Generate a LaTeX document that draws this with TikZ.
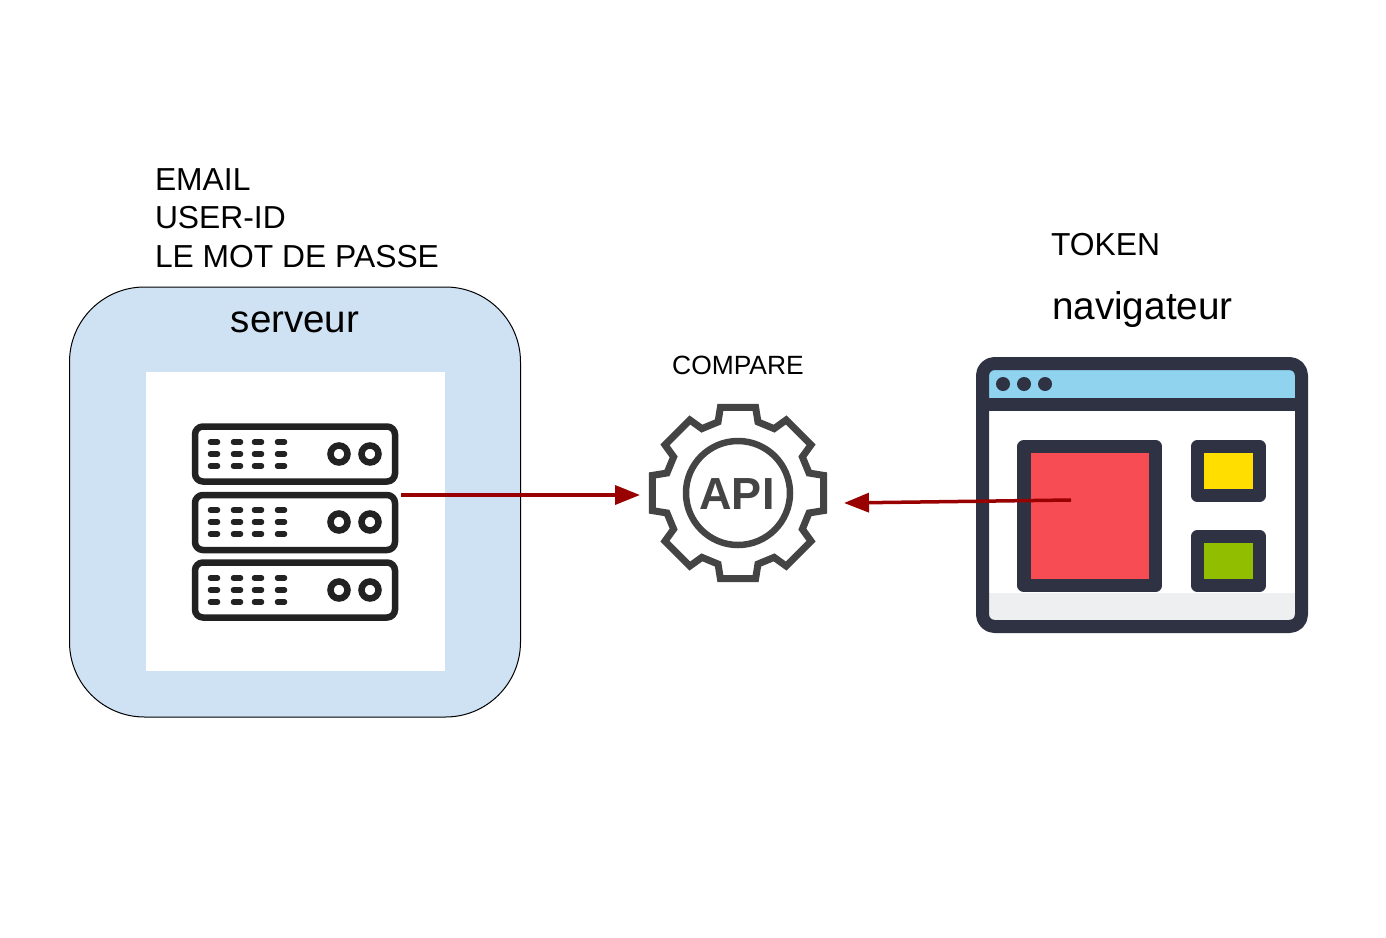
\documentclass[tikz,border=0pt]{standalone}
\usepackage{fontspec}
\setmainfont{Liberation Sans}
\usetikzlibrary{arrows.meta}
\definecolor{panelblue}{HTML}{CFE2F3}
\definecolor{arrowred}{HTML}{990000}
\definecolor{icondark}{HTML}{2F3243}
\definecolor{icongrey}{HTML}{444444}
\definecolor{iconblack}{HTML}{222222}
\definecolor{skyband}{HTML}{8FD3EF}
\definecolor{redpane}{HTML}{F84C55}
\definecolor{yellowpane}{HTML}{FFDE00}
\definecolor{greenpane}{HTML}{92BE00}
\definecolor{footgrey}{HTML}{EEEFF1}
\newcommand{\fsz}[1]{\fontsize{#1}{#1}\selectfont}
\tikzset{
  lbl/.style={inner sep=0pt,outer sep=0pt,anchor=base west,text=black},
  flow/.style={draw=arrowred,line width=3.5pt,-{Stealth[length=25pt,width=19pt,inset=0pt]}},
  rackbox/.style={draw=iconblack,line width=6.5pt,rounded corners=8pt},
  slot/.style={draw=iconblack,line width=5.5pt,line cap=round},
  led/.style={draw=iconblack,line width=6.5pt,fill=white},
  frame/.style={draw=icondark,line width=13pt,line join=round},
  pane/.style={draw=icondark,line width=13.5pt,line join=round},
}
\begin{document}
\begin{tikzpicture}[x=1pt,y=-1pt]
\useasboundingbox (0,0) rectangle (1386,937);
\fill[white] (0,0) rectangle (1386,937);

% server panel
\draw[fill=panelblue,draw=black,line width=1pt,rounded corners=75pt] (69.5,287) rectangle (520.5,717);
\fill[white] (146,372) rectangle (445,671);
\node[lbl,anchor=base] (serverlabel) at (295,332) {\fsz{38.5}serveur};
\node[lbl] (creds1) at (155,190) {\fsz{31.8}EMAIL};
\node[lbl] (creds2) at (155,228.5) {\fsz{31.8}USER-ID};
\node[lbl] (creds3) at (155,267) {\fsz{31.8}LE MOT DE PASSE};

% server rack icon
\foreach \t in {426.5,495,562.5}{
  \draw[rackbox] (195,\t) rectangle (395,\t+55);
}
\foreach \dy in {0,68,136}{
  \foreach \x in {214,237,258,281}{
    \foreach \yy in {442,454,466}{
      \draw[slot] (\x-3.5,\yy+\dy) -- (\x+3.5,\yy+\dy);
    }
  }
  \draw[led] (339,454+\dy) circle (8.5);
  \draw[led] (370,454+\dy) circle (8.5);
}
\coordinate (serverport) at (401,495);

% API gear
\node[lbl,anchor=base] (compare) at (738,374) {\fsz{26.4}COMPARE};
\draw[icongrey,line width=7pt,line join=miter,miter limit=3]
  ({738+73.8*cos(-90-15.7)},{493+73.8*sin(-90-15.7)})
  \foreach \a in {-90,-45,0,45,90,135,180,225}{
    -- ({738+73.8*cos(\a-15.7)},{493+73.8*sin(\a-15.7)})
    -- ({738+87.5*cos(\a-11.6)},{493+87.5*sin(\a-11.6)})
    -- ({738+87.5*cos(\a+11.6)},{493+87.5*sin(\a+11.6)})
    -- ({738+73.8*cos(\a+15.7)},{493+73.8*sin(\a+15.7)})
  } -- cycle;
\draw[icongrey,line width=6.5pt] (738,493) circle (52);
\node[lbl,anchor=base,text=icongrey] (apitext) at (737,509) {\fsz{45}\bfseries API};
\coordinate (gearleft) at (640,495);
\coordinate (gearright) at (844,503);

% browser window
\node[lbl] (token) at (1051,255) {\fsz{31.8}TOKEN};
\node[lbl] (navlabel) at (1052,319) {\fsz{38.7}navigateur};
\fill[white] (982,363) rectangle (1302,627);
\fill[skyband] (982,363) rectangle (1302,400);
\fill[footgrey] (982,593) rectangle (1302,627);
\fill[icondark] (982,398) rectangle (1302,411);
\draw[frame,rounded corners=12pt] (982.5,363.5) rectangle (1301.5,626.5);
\foreach \x in {1003,1024,1045}{
  \fill[icondark] (\x,384) circle (7);
}
\draw[pane,fill=redpane] (1024,446.5) rectangle (1155.5,585.5);
\draw[pane,fill=yellowpane] (1197.5,446.5) rectangle (1259.5,495.5);
\draw[pane,fill=greenpane] (1197.5,536.5) rectangle (1259.5,585.5);
\coordinate (redpanecentre) at (1071,500);

% connectors
\draw[flow] (serverport) -- (gearleft);
\draw[flow] (redpanecentre) -- (gearright);
\end{tikzpicture}
\end{document}
